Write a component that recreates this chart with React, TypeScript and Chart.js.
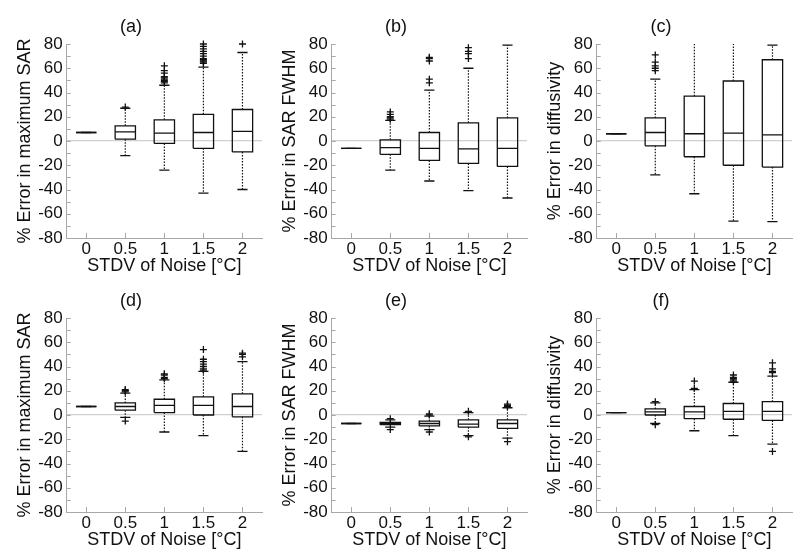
import React, { useEffect, useRef } from 'react';
import { Chart, registerables } from 'chart.js';

Chart.register(...registerables);

const categories = ['0', '0.5', '1', '1.5', '2'];
const panelTitles = ['(a)', '(b)', '(c)', '(d)', '(e)', '(f)'];
const yTitles = [
  '% Error in maximum SAR',
  '% Error in SAR FWHM',
  '% Error in diffusivity',
  '% Error in maximum SAR',
  '% Error in SAR FWHM',
  '% Error in diffusivity',
];
const xTitle = 'STDV of Noise [°C]';
const yMin = -80;
const yMax = 80;
const yMajorStep = 20;
const yMinorStep = 10;

// (a)
const aLow = [7, -12, -24, -43, -40];
const aQ1 = [7, 1.5, -2, -6, -9];
const aMed = [7, 7.5, 6.5, 7, 8];
const aQ3 = [7, 12.5, 17.5, 22, 26];
const aHigh = [7, 27, 46, 61, 73];
const aOut = [[], [28], [48, 49, 50, 51, 52, 53, 56, 58, 62], [64, 65, 66, 67, 68, 70, 72, 74, 76, 78, 80], [80]];

// (b)
const bLow = [-6, -24, -33, -41, -47];
const bQ1 = [-6, -11, -16, -18.5, -21];
const bMed = [-6, -5.5, -6, -6.5, -6];
const bQ3 = [-6, 1, 7, 15, 19];
const bHigh = [-6, 17, 42, 60, 79];
const bOut = [[], [18, 19, 20, 22, 24], [48, 51, 66, 68, 69], [68, 72, 74, 77], []];

// (c)
const cLow = [6, -28, -43.5, -66, -66.5];
const cQ1 = [6, -4, -13, -20, -21.5];
const cMed = [6, 7, 6, 6.5, 5];
const cQ3 = [6, 19, 37, 49.5, 67];
const cHigh = [6, 51, 88, 88, 79];
const cOut = [[], [58, 60, 62, 65, 71], [], [], []];

// (d)
const dLow = [7, -2, -14, -17, -30];
const dQ1 = [7, 4, 2, 0, -1.5];
const dMed = [7, 7, 8, 8, 7];
const dQ3 = [7, 10, 13, 15, 17.5];
const dHigh = [7, 18, 29, 36, 44];
const dOut = [[], [-5, 19, 20, 21], [30, 31, 33, 34], [37, 38, 40, 42, 44, 46, 54], [48, 50, 51]];

// (e)
const eLow = [-7, -10, -12, -17, -19];
const eQ1 = [-7, -8, -9, -10, -11];
const eMed = [-7, -7, -7, -7.5, -7];
const eQ3 = [-7, -6, -5, -4, -4];
const eHigh = [-7, -4, -1, 2, 6];
const eOut = [[], [-12, -3], [-14, 0, 1], [-18, 3], [-22, 7, 8, 9]];

// (f)
const fLow = [2, -7, -13, -17, -24];
const fQ1 = [2, 0, -3, -3.5, -4.5];
const fMed = [2, 2.5, 2.5, 3, 3];
const fQ3 = [2, 5, 7, 9.5, 11];
const fHigh = [2, 10, 21, 27, 32];
const fOut = [[], [-8, 11], [22, 28], [28, 29, 30, 31, 33], [-30, 35, 36, 38, 43]];

const panels = [
  { low: aLow, q1: aQ1, med: aMed, q3: aQ3, high: aHigh, out: aOut },
  { low: bLow, q1: bQ1, med: bMed, q3: bQ3, high: bHigh, out: bOut },
  { low: cLow, q1: cQ1, med: cMed, q3: cQ3, high: cHigh, out: cOut },
  { low: dLow, q1: dQ1, med: dMed, q3: dQ3, high: dHigh, out: dOut },
  { low: eLow, q1: eQ1, med: eMed, q3: eQ3, high: eHigh, out: eOut },
  { low: fLow, q1: fQ1, med: fMed, q3: fQ3, high: fHigh, out: fOut },
];

const BOX_HALF = 0.26;
const CAP_HALF = 0.13;
const FONT = "'Liberation Sans', Arial, Helvetica, sans-serif";
const INK = '#111';
const AXIS_GRAY = '#a8a8a8';

const CANVAS_W = 270;
const CANVAS_H = 275;

type Pt = { x: number; y: number | null };

function buildDatasets(p: typeof panels[number]) {
  const boxes: Pt[] = [];
  const medians: Pt[] = [];
  const whiskers: Pt[] = [];
  const caps: Pt[] = [];
  const outliers: Pt[] = [];
  categories.forEach((_, i) => {
    boxes.push(
      { x: i - BOX_HALF, y: p.q1[i] },
      { x: i + BOX_HALF, y: p.q1[i] },
      { x: i + BOX_HALF, y: p.q3[i] },
      { x: i - BOX_HALF, y: p.q3[i] },
      { x: i - BOX_HALF, y: p.q1[i] },
      { x: i, y: null },
    );
    medians.push({ x: i - BOX_HALF, y: p.med[i] }, { x: i + BOX_HALF, y: p.med[i] }, { x: i, y: null });
    whiskers.push(
      { x: i, y: p.q3[i] },
      { x: i, y: p.high[i] },
      { x: i, y: null },
      { x: i, y: p.q1[i] },
      { x: i, y: p.low[i] },
      { x: i, y: null },
    );
    caps.push(
      { x: i - CAP_HALF, y: p.high[i] },
      { x: i + CAP_HALF, y: p.high[i] },
      { x: i, y: null },
      { x: i - CAP_HALF, y: p.low[i] },
      { x: i + CAP_HALF, y: p.low[i] },
      { x: i, y: null },
    );
    p.out[i].forEach((v) => outliers.push({ x: i, y: v }));
  });
  const lineBase = {
    showLine: true,
    spanGaps: false,
    pointRadius: 0,
    pointHoverRadius: 0,
    borderColor: INK,
    backgroundColor: 'transparent',
    fill: false,
    tension: 0,
  };
  return [
    { ...lineBase, label: 'box', data: boxes, borderWidth: 1.3 },
    { ...lineBase, label: 'median', data: medians, borderWidth: 1.3 },
    { ...lineBase, label: 'whisker', data: whiskers, borderWidth: 1.2, borderDash: [1.5, 1.5] },
    { ...lineBase, label: 'cap', data: caps, borderWidth: 1.3 },
    {
      label: 'outlier',
      data: outliers,
      showLine: false,
      pointStyle: 'cross',
      pointRadius: 3.5,
      pointBorderWidth: 1.3,
      pointBorderColor: INK,
      pointBackgroundColor: INK,
      clip: false,
    },
  ];
}

const innerTicksPlugin = {
  id: 'innerTicks',
  afterDraw(chart: any) {
    const y = chart.scales.y;
    const x = chart.scales.x;
    const ctx = chart.ctx;
    ctx.save();
    ctx.strokeStyle = AXIS_GRAY;
    ctx.lineWidth = 1;
    for (let v = yMin; v <= yMax; v += yMinorStep) {
      const py = Math.round(y.getPixelForValue(v)) + 0.5;
      ctx.beginPath();
      ctx.moveTo(y.right, py);
      ctx.lineTo(y.right + 4, py);
      ctx.stroke();
    }
    categories.forEach((_, i) => {
      const px = Math.round(x.getPixelForValue(i)) + 0.5;
      ctx.beginPath();
      ctx.moveTo(px, x.top);
      ctx.lineTo(px, x.top - 5);
      ctx.stroke();
    });
    ctx.restore();
  },
};

function Panel({ idx, left, top }: { idx: number; left: number; top: number }) {
  const ref = useRef<HTMLCanvasElement>(null);
  useEffect(() => {
    const chart = new Chart(ref.current as HTMLCanvasElement, {
      type: 'scatter',
      data: { datasets: buildDatasets(panels[idx]) as any },
      plugins: [innerTicksPlugin],
      options: {
        responsive: false,
        animation: false,
        events: [],
        layout: { padding: { left: 0, right: 8, top: 0, bottom: 0 } },
        plugins: {
          legend: { display: false },
          tooltip: { enabled: false },
          title: {
            display: true,
            text: panelTitles[idx],
            color: INK,
            font: { family: FONT, size: 18, weight: 'normal', lineHeight: 1 },
            padding: { top: 18, bottom: 8 },
          },
        },
        scales: {
          x: {
            type: 'linear',
            min: -0.5,
            max: 4.5,
            afterBuildTicks: (axis: any) => {
              axis.ticks = categories.map((_, i) => ({ value: i }));
            },
            afterFit: (axis: any) => {
              axis.height = 37;
            },
            ticks: {
              autoSkip: false,
              maxRotation: 0,
              padding: 1,
              color: INK,
              font: { family: FONT, size: 17 },
              callback: (_v: any, i: number) => categories[i],
            },
            grid: { display: false, drawTicks: false },
            border: { display: true, color: AXIS_GRAY, width: 1 },
            title: {
              display: true,
              text: xTitle,
              color: INK,
              font: { family: FONT, size: 18, lineHeight: 1 },
              padding: { top: 0, bottom: 0 },
            },
          },
          y: {
            type: 'linear',
            min: yMin,
            max: yMax,
            afterFit: (axis: any) => {
              axis.width = 66.7;
            },
            ticks: {
              stepSize: yMajorStep,
              autoSkip: false,
              padding: 4,
              color: INK,
              font: { family: FONT, size: 17 },
            },
            grid: {
              drawTicks: false,
              color: (ctx: any) => (ctx.tick && ctx.tick.value === 0 ? '#cfcfcf' : 'rgba(0,0,0,0)'),
              lineWidth: 1.2,
            },
            border: { display: true, color: AXIS_GRAY, width: 1 },
            title: {
              display: true,
              text: yTitles[idx],
              color: INK,
              font: { family: FONT, size: 18, lineHeight: 1 },
              padding: { top: 16, bottom: 0 },
            },
          },
        },
      } as any,
    });
    return () => chart.destroy();
  }, [idx]);
  return (
    <canvas
      ref={ref}
      width={CANVAS_W}
      height={CANVAS_H}
      style={{ position: 'absolute', left, top, width: CANVAS_W, height: CANVAS_H }}
    />
  );
}

const colLefts = [0, 265, 530];
const rowTops = [0, 274];

export default function App() {
  return (
    <div style={{ position: 'absolute', left: 0, top: 0, width: 800, height: 557, background: '#fff', overflow: 'hidden' }}>
      {panels.map((_, i) => (
        <Panel key={i} idx={i} left={colLefts[i % 3]} top={rowTops[Math.floor(i / 3)]} />
      ))}
    </div>
  );
}
